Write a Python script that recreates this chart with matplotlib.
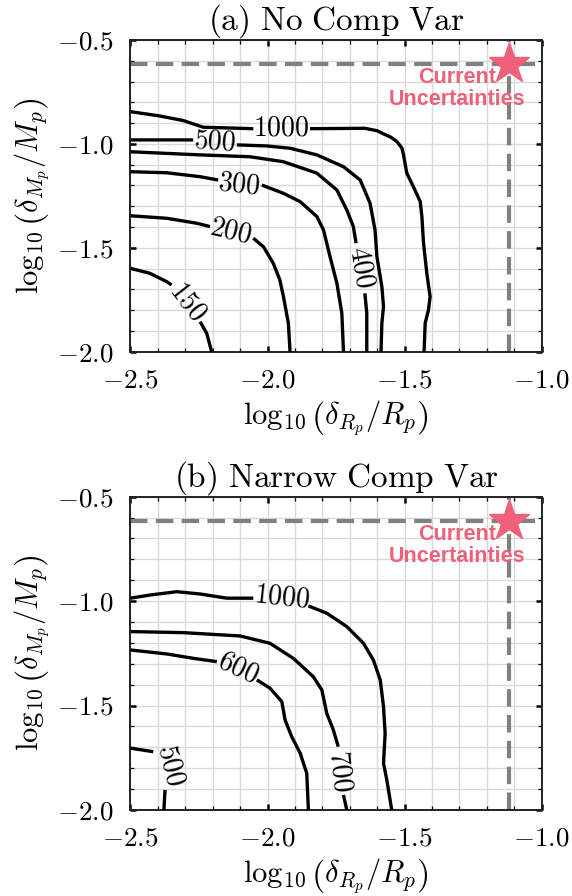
import numpy as np
import matplotlib
matplotlib.use('Agg')
import matplotlib.pyplot as plt
from matplotlib.ticker import MultipleLocator, FuncFormatter

nan = np.nan

# ---------------- data ----------------
# Panel (a): No Comp Var -- contour lines (NaN = gap for inline label)
a1000_x = [-2.5, -2.392, -2.307, -2.234, -2.052, nan, -1.845, -1.645, -1.600, -1.577, -1.550, -1.528, -1.510, -1.504, -1.492, -1.468, -1.443, -1.437, -1.431, -1.419, -1.407, -1.413, -1.425, -1.429]
a1000_y = [-0.845, -0.866, -0.888, -0.920, -0.927, nan, -0.927, -0.925, -0.937, -0.952, -0.968, -0.989, -1.020, -1.053, -1.141, -1.206, -1.278, -1.350, -1.478, -1.623, -1.735, -1.799, -1.863, -2.0]
a500_x = [-2.5, -2.271, nan, -2.112, -2.003, -1.918, -1.820, -1.723, -1.662, -1.626, -1.608, -1.601, -1.583, -1.577, -1.583, -1.586]
a500_y = [-0.981, -0.981, nan, -1.005, -1.010, -1.021, -1.053, -1.110, -1.174, -1.286, -1.414, -1.543, -1.687, -1.783, -1.863, -2.0]
a400_x = [-2.5, -2.246, -2.064, -1.942, -1.820, -1.747, -1.711, -1.687, -1.677, nan, -1.645, -1.638, -1.638]
a400_y = [-1.038, -1.053, -1.062, -1.086, -1.141, -1.222, -1.318, -1.398, -1.478, nan, -1.719, -1.815, -2.0]
a300_x = [-2.5, -2.368, -2.246, -2.180, nan, -2.021, -1.942, -1.881, -1.820, -1.796, -1.772, -1.747, -1.729, -1.723]
a300_y = [-1.134, -1.139, -1.158, -1.174, nan, -1.198, -1.238, -1.278, -1.350, -1.414, -1.543, -1.671, -1.815, -2.0]
a200_x = [-2.5, -2.368, -2.258, -2.210, nan, -2.052, -2.015, -1.979, -1.955, -1.942, -1.924, -1.918]
a200_y = [-1.346, -1.358, -1.382, -1.398, nan, -1.454, -1.495, -1.575, -1.655, -1.735, -1.863, -2.0]
a150_x = [-2.5, -2.429, -2.368, -2.350, nan, -2.246, -2.222, -2.204]
a150_y = [-1.599, -1.623, -1.663, -1.679, nan, -1.856, -1.911, -2.0]
a_label_text = ['1000', '500', '400', '300', '200', '150']
a_label_x = [-1.950, -2.193, -1.659, -2.104, -2.134, -2.292]
a_label_y = [-0.925, -0.989, -1.595, -1.194, -1.423, -1.758]
a_label_rot = [0, -4, -80, -6, -13, -52]

# Panel (b): Narrow Comp Var
b1000_x = [-2.5, -2.429, -2.331, -2.246, -2.149, -2.052, nan, -1.851, -1.784, -1.711, -1.650, -1.614, -1.589, -1.577, -1.571, -1.577, -1.565, -1.547]
b1000_y = [-0.986, -0.971, -0.955, -0.966, -0.986, -0.986, nan, -1.023, -1.058, -1.122, -1.202, -1.282, -1.377, -1.505, -1.633, -1.776, -1.856, -2.0]
b700_x = [-2.5, -2.307, -2.100, -1.991, -1.906, -1.833, -1.802, -1.784, -1.760, -1.742, nan, -1.723, -1.711]
b700_y = [-1.146, -1.151, -1.167, -1.202, -1.274, -1.362, -1.425, -1.537, -1.617, -1.697, nan, -1.928, -2.0]
b600_x = [-2.5, -2.368, -2.271, -2.185, nan, -2.039, -1.991, -1.948, -1.936, -1.912, -1.881, -1.857, -1.851]
b600_y = [-1.234, -1.253, -1.274, -1.290, nan, -1.377, -1.417, -1.481, -1.569, -1.649, -1.728, -1.824, -2.0]
b500_x = [-2.5, -2.417, nan, -2.374, -2.378]
b500_y = [-1.704, -1.721, nan, -1.904, -2.0]
b_label_text = ['1000', '700', '600', '500']
b_label_x = [-1.948, -1.735, -2.107, -2.353]
b_label_y = [-0.982, -1.813, -1.321, -1.784]
b_label_rot = [-6, -84, -25, -76]

# current uncertainties
cur_x = -1.12
cur_y = -0.615

titles = [r'$\mathrm{(a)\ No\ Comp\ Var}$', r'$\mathrm{(b)\ Narrow\ Comp\ Var}$']
xlabel = r'$\log_{10}\left(\delta_{R_p}/R_p\right)$'
ylabel = r'$\log_{10}\left(\delta_{M_p}/M_p\right)$'

# ---------------- style ----------------
plt.rcParams['mathtext.fontset'] = 'cm'
plt.rcParams['font.family'] = 'serif'
plt.rcParams['font.serif'] = ['cmr10', 'DejaVu Serif']
plt.rcParams['axes.formatter.use_mathtext'] = True

fig = plt.figure(figsize=(5.72, 8.96), dpi=100)
axA = fig.add_axes([0.2281, 0.6075, 0.7189, 0.3479])
axB = fig.add_axes([0.2281, 0.0960, 0.7189, 0.3497])

panels = [
    (axA, [(a1000_x, a1000_y), (a500_x, a500_y), (a400_x, a400_y), (a300_x, a300_y), (a200_x, a200_y), (a150_x, a150_y)],
     a_label_text, a_label_x, a_label_y, a_label_rot, titles[0]),
    (axB, [(b1000_x, b1000_y), (b700_x, b700_y), (b600_x, b600_y), (b500_x, b500_y)],
     b_label_text, b_label_x, b_label_y, b_label_rot, titles[1]),
]

fmt = FuncFormatter(lambda v, p: r'$%.1f$' % v)
pink = '#EF6079'

for ax, lines, ltxt, lx, ly, lrot, title in panels:
    ax.set_xlim(-2.5, -1.0)
    ax.set_ylim(-2.0, -0.5)
    ax.xaxis.set_major_locator(MultipleLocator(0.5))
    ax.yaxis.set_major_locator(MultipleLocator(0.5))
    ax.xaxis.set_minor_locator(MultipleLocator(0.1))
    ax.yaxis.set_minor_locator(MultipleLocator(0.1))
    ax.xaxis.set_major_formatter(fmt)
    ax.yaxis.set_major_formatter(fmt)
    ax.grid(True, which='both', color='#d9d9d9', lw=1.0, zorder=0)
    ax.set_axisbelow(True)
    ax.tick_params(which='both', direction='in', top=True, right=True)
    ax.tick_params(which='major', length=4.5, width=1.8, labelsize=19.5, pad=12)
    ax.tick_params(which='minor', length=3, width=0.9)
    for s in ax.spines.values():
        s.set_linewidth(1.4)
        s.set_color('#222222')

    for xs, ys in lines:
        ax.plot(xs, ys, color='black', lw=2.4, zorder=3, solid_capstyle='butt',
                solid_joinstyle='round')
    for t, x, y, r in zip(ltxt, lx, ly, lrot):
        ax.text(x, y, r'$%s$' % t, fontsize=20, rotation=r, rotation_mode='anchor',
                ha='center', va='center', zorder=4)

    ax.axhline(cur_y, color='#808080', lw=3, ls='--', dashes=(4.2, 2.0), zorder=2)
    ax.axvline(cur_x, color='#808080', lw=3, ls='--', dashes=(4.2, 2.0), zorder=2)
    ax.plot([cur_x], [cur_y], marker='*', ms=31, color=pink, mec=pink, zorder=5, clip_on=False)
    ax.text(-1.31, -0.733, 'Current\nUncertainties', color=pink, fontsize=15.5,
            fontweight='bold', family=['Liberation Sans', 'DejaVu Sans'],
            ha='center', va='center', multialignment='center', linespacing=1.05, zorder=5)

    ax.set_title(title, fontsize=24, pad=1)
    ax.set_xlabel(xlabel, fontsize=22, labelpad=4)
    ax.set_ylabel(ylabel, fontsize=22, labelpad=4)

fig.savefig('out.png', dpi=100)
